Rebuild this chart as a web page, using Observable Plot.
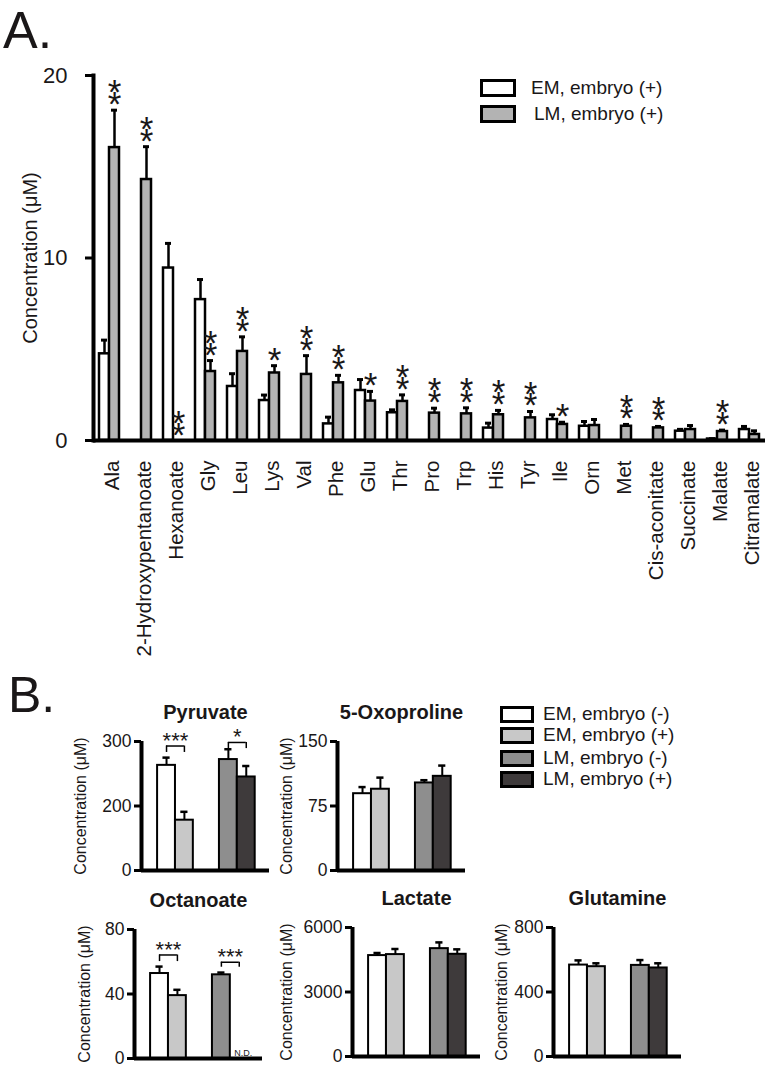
<!DOCTYPE html>
<html><head><meta charset="utf-8">
<script src="https://cdn.jsdelivr.net/npm/d3@7"></script>
<script src="https://cdn.jsdelivr.net/npm/@observablehq/plot@0.6"></script>
<style>
body{margin:0;background:#fff;font-family:"Liberation Sans",Arial,sans-serif;color:#1a1718}
#root{position:relative;width:768px;height:1073px;overflow:hidden;background:#fff}
.panel{position:absolute;font-family:"Liberation Sans",Arial,sans-serif;line-height:1.15}
.leg{position:absolute;display:flex;align-items:center;font-size:19px;white-space:nowrap}
.sw{box-sizing:border-box;border:3px solid #000}
</style></head><body><div id="root"></div>
<script>
// ---------- Panel A data ----------
const aCategories = ["Ala","2-Hydroxypentanoate","Hexanoate","Gly","Leu","Lys","Val","Phe","Glu","Thr","Pro","Trp","His","Tyr","Ile","Orn","Met","Cis-aconitate","Succinate","Malate","Citramalate"];
const aSeries = ["EM, embryo (+)", "LM, embryo (+)"];
const aEM   = [4.75,0,9.45,7.72,2.96,2.19,0,0.91,2.74,1.52,0,0,0.68,0,1.15,0.78,0,0,0.51,0.08,0.60];
const aEMse = [0.75,0,1.35,1.10,0.70,0.30,0,0.37,0.60,0.16,0,0,0.27,0,0.26,0.26,0,0,0.10,0.02,0.17];
const aLM   = [16.05,14.3,0,3.78,4.88,3.70,3.62,3.16,2.16,2.14,1.50,1.46,1.41,1.24,0.88,0.82,0.78,0.69,0.60,0.49,0.33];
const aLMse = [2.05,1.8,0,0.60,0.80,0.40,1.03,0.41,0.53,0.36,0.27,0.33,0.24,0.35,0.12,0.33,0.10,0.08,0.22,0.08,0.20];
const aSig  = ["**","**","**","**","**","*","**","**","*","**","**","**","**","**","*","","**","**","","**",""];
const aYTicks = [0,10,20];
const aYLabel = "Concentration (μM)";

// ---------- Panel B data ----------
const bGroups = ["EM, embryo (-)","EM, embryo (+)","LM, embryo (-)","LM, embryo (+)"];
const bColors = ["#ffffff","#c8c8c8","#8e8e8e","#3e3a3b"];
const pyruvateMean = [263,156,272,245];
const pyruvateSE   = [12,26,16,17];
const pyruvateTicks = [0,200,300];
const oxoprolineMean = [89.3,94.5,101.8,109.5];
const oxoprolineSE   = [7.7,13.5,3.2,12.5];
const oxoprolineTicks = [0,75,150];
const octanoateMean = [52.7,39.0,51.9,null];
const octanoateSE   = [4.3,3.6,1.4,null];
const octanoateTicks = [0,40,80];
const lactateMean = [4694,4740,5017,4754];
const lactateSE   = [120,260,290,230];
const lactateTicks = [0,3000,6000];
const glutamineMean = [567,557,565,549];
const glutamineSE   = [29,21,33,29];
const glutamineTicks = [0,400,800];
const pyruvateSig  = [{a:0,b:1,label:"***",level:293,foot:283},{a:2,b:3,label:"*",level:298.5,foot:289}];
const octanoateSig = [{a:0,b:1,label:"***",level:64.2,foot:60.1},{a:2,b:3,label:"***",level:59.7,foot:56.6}];

const root = document.getElementById("root");
const INK = "#1a1718";
const FONT = "'Liberation Sans', Arial, sans-serif";

function place(el, left, top){ el.style.position="absolute"; el.style.left=left+"px"; el.style.top=top+"px"; root.appendChild(el); return el; }

// ---------- Panel A ----------
const rowsA = aCategories.flatMap((c,i)=>[
  {cat:c, series:aSeries[0], v:aEM[i], se:aEMse[i], sig:""},
  {cat:c, series:aSeries[1], v:aLM[i], se:aLMse[i], sig:aSig[i]}
]);
const emRows = rowsA.filter(d=>d.series===aSeries[0]);
const lmRows = rowsA.filter(d=>d.series===aSeries[1]);
const grayA = "#b3b3b3";

function errMarks(rows, dx){
  const r = rows.filter(d=>d.v>0);
  return [
    Plot.ruleX(r, {x:"cat", y1:"v", y2:d=>d.v+d.se, dx, stroke:"#000", strokeWidth:2.5}),
    Plot.tickY(r, {x:"cat", y:d=>d.v+d.se, dx, insetLeft:7, insetRight:7, stroke:"#000", strokeWidth:3})
  ];
}

const plotA = Plot.plot({
  width: 768, height: 670,
  marginLeft: 93, marginRight: 3, marginTop: 75, marginBottom: 230,
  style: {background:"transparent", overflow:"visible", fontFamily: FONT, color: INK},
  x: {domain: aCategories, type:"band", paddingInner: 0.375, paddingOuter: 0.1875},
  y: {domain: [0,20]},
  marks: [
    ...errMarks(emRows, -5),
    ...errMarks(lmRows, 5),
    Plot.barY(emRows, {x:"cat", y:"v", fill:"#fff", stroke:"#000", strokeWidth:2.5, insetRight:10}),
    Plot.barY(lmRows, {x:"cat", y:"v", fill:grayA, stroke:"#000", strokeWidth:2.5, insetLeft:10}),
    Plot.text(lmRows.filter(d=>d.sig), {x:"cat", y:d=>d.v+d.se, dx:5, dy:6, text:d=>d.sig.split("").join("\n"),
      lineAnchor:"bottom", lineHeight:0.34, fontSize:35, fill:INK}),
    Plot.ruleY([0], {stroke:"#000", strokeWidth:4}),
    Plot.frame({anchor:"left", stroke:"#000", strokeWidth:4}),
    Plot.axisY({ticks:aYTicks, tickSize:8, tickPadding:18, fontSize:22, strokeWidth:3, stroke:"#000", label:null, fill:INK}),
    Plot.axisX({tickRotate:-90, tickSize:0, tickPadding:20, fontSize:20.5, label:null, dx:3, fill:INK}),
    Plot.text([aYLabel], {frameAnchor:"left", textAnchor:"middle", rotate:-90, dx:-63, fontSize:20, fill:INK})
  ]
});
place(plotA, 0, 0);

// A. label and legend
const labA = document.createElement("div"); labA.className="panel"; labA.textContent="A."; labA.style.fontSize="52px"; labA.style.lineHeight="1"; place(labA, 3, 4);
[[aSeries[0], "#fff", 77, 531],[aSeries[1], grayA, 103, 534]].forEach(([t,c,top,tx])=>{
  const row = document.createElement("div"); row.className="leg";
  const sw = document.createElement("div"); sw.className="sw"; sw.style.width="36px"; sw.style.height="18px"; sw.style.background=c; sw.style.marginRight=(tx-480-36)+"px";
  const tt = document.createElement("span"); tt.textContent=t;
  row.appendChild(sw); row.appendChild(tt);
  place(row, 480, top);
});

// ---------- Panel B ----------
const slot = i => i + (i >= 2 ? 1.46 : 0);
const ML = 80, MT = 50, MB = 8, MR = 8, FW = 128, FH = 129;

function smallChart({title, mean, se, ticks, axisX, topY, labelOffset, sig = [], broken = false}){
  const lo = ticks[0], mid = ticks[1], hi = ticks[ticks.length-1];
  // broken axis: the lower segment [lo, mid] is drawn as tall as the upper segment [mid, hi]
  const f = broken ? (v => v <= mid ? lo + (v - lo) * (hi - mid) / (mid - lo) : v - mid + (hi - mid) + lo) : (v => v);
  const finv = broken ? (u => u <= lo + (hi - mid) ? lo + (u - lo) * (mid - lo) / (hi - mid) : u + mid - (hi - mid) - lo) : (u => u);
  const rows = bGroups.map((g,i)=>({group:g, mean:mean[i], se:se[i], s:slot(i)})).filter(d=>d.mean!=null);
  const nd = bGroups.map((g,i)=>({group:g, mean:mean[i], s:slot(i)})).filter(d=>d.mean==null);
  const c = i => slot(i)+0.5;
  const plot = Plot.plot({
    width: ML+FW+MR, height: MT+FH+MB,
    marginLeft: ML, marginRight: MR, marginTop: MT, marginBottom: MB,
    style: {background:"transparent", overflow:"visible", fontFamily: FONT, color: INK},
    x: {domain: [-0.9, 6.26], axis: null},
    y: {domain: [f(lo), f(hi)]},
    color: {domain: bGroups, range: bColors},
    marks: [
      Plot.ruleX(rows, {x:d=>d.s+0.5, y1:d=>f(d.mean), y2:d=>f(d.mean+d.se), stroke:"#000", strokeWidth:2}),
      Plot.ruleY(rows, {y:d=>f(d.mean+d.se), x1:d=>d.s+0.3, x2:d=>d.s+0.7, stroke:"#000", strokeWidth:2.5}),
      Plot.rectY(rows, {x1:"s", x2:d=>d.s+1, y1:f(lo), y2:d=>f(d.mean), fill:"group", stroke:"#000", strokeWidth:2}),
      Plot.ruleY(sig, {y:d=>f(d.level), x1:d=>c(d.a), x2:d=>c(d.b), stroke:"#000", strokeWidth:1.5}),
      Plot.ruleX(sig.flatMap(d=>[{x:c(d.a),level:d.level,foot:d.foot},{x:c(d.b),level:d.level,foot:d.foot}]),
        {x:"x", y1:d=>f(d.level), y2:d=>f(d.foot), stroke:"#000", strokeWidth:1.5}),
      Plot.text(sig, {x:d=>(c(d.a)+c(d.b))/2, y:d=>f(d.level), text:"label", lineAnchor:"bottom", dy:2, fontSize:22, fill:INK}),
      Plot.text(nd, {x:d=>d.s+0.5, y:f(lo), text:()=>"N.D.", lineAnchor:"bottom", dy:-3, dx:4, fontSize:9, fill:INK}),
      Plot.ruleY([f(lo)], {stroke:"#000", strokeWidth:4}),
      Plot.ruleX([-0.9], {stroke:"#000", strokeWidth:4}),
      Plot.axisY({ticks: ticks.map(f), tickFormat: u => d3.format("d")(Math.round(finv(u))), tickSize:7, tickPadding:3, fontSize:17.5, strokeWidth:3, stroke:"#000", label:null, fill:INK}),
      Plot.text([title], {frameAnchor:"top", dy:-23, lineAnchor:"bottom", fontSize:20, fontWeight:"bold", fill:INK}),
      Plot.text([aYLabel], {frameAnchor:"left", textAnchor:"middle", rotate:-90, dx:-labelOffset, fontSize:16, fill:INK})
    ]
  });
  place(plot, axisX-ML, topY-MT);
}

smallChart({title:"Pyruvate", mean:pyruvateMean, se:pyruvateSE, ticks:pyruvateTicks, axisX:141, topY:741, labelOffset:61, sig:pyruvateSig, broken:true});
smallChart({title:"5-Oxoproline", mean:oxoprolineMean, se:oxoprolineSE, ticks:oxoprolineTicks, axisX:337, topY:741, labelOffset:51});
smallChart({title:"Octanoate", mean:octanoateMean, se:octanoateSE, ticks:octanoateTicks, axisX:134, topY:929, labelOffset:50, sig:octanoateSig});
smallChart({title:"Lactate", mean:lactateMean, se:lactateSE, ticks:lactateTicks, axisX:352, topY:927, labelOffset:66});
smallChart({title:"Glutamine", mean:glutamineMean, se:glutamineSE, ticks:glutamineTicks, axisX:553, topY:927, labelOffset:52});

// B. label and legend
const labB = document.createElement("div"); labB.className="panel"; labB.textContent="B."; labB.style.fontSize="50px"; labB.style.lineHeight="1"; place(labB, 8, 670);
bGroups.forEach((g,i)=>{
  const tops = [703,724,747,768];
  const row = document.createElement("div"); row.className="leg";
  const sw = document.createElement("div"); sw.className="sw"; sw.style.width="34px"; sw.style.height="17px"; sw.style.background=bColors[i]; sw.style.marginRight="9px";
  const tt = document.createElement("span"); tt.textContent=g;
  row.appendChild(sw); row.appendChild(tt);
  place(row, 500, tops[i]);
});
</script></body></html>
